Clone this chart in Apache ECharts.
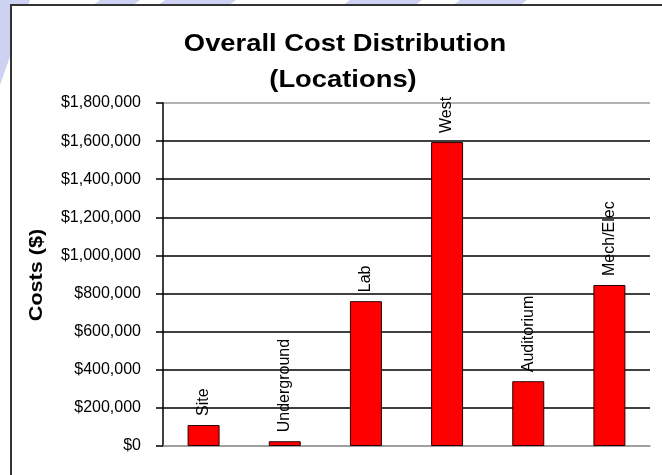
<!DOCTYPE html>
<html>
<head>
<meta charset="utf-8">
<script src="https://cdn.jsdelivr.net/npm/echarts@6/dist/echarts.min.js"></script>
<style>
  html, body { margin: 0; padding: 0; background: #fff; }
  #chart { width: 662px; height: 475px; }
</style>
</head>
<body>
<div id="chart"></div>
<script>
// Cost per project location
const locations = ['Site', 'Underground', 'Lab', 'West', 'Auditorium', 'Mech/Elec'];
const costs = [110000, 25000, 760000, 1595000, 340000, 845000];

// Value axis range
const axisMin = 0;
const axisMax = 1800000;
const axisStep = 200000;

const titleLines = ['Overall Cost Distribution', '(Locations)'];
const yAxisTitle = 'Costs ($)';

const FONT = '"Liberation Sans", Arial, sans-serif';

function money(v) {
  return '$' + v.toLocaleString('en-US');
}

// grid lines: the outer ones (0 and max) are the grey plot border, the rest black
const nLines = Math.round((axisMax - axisMin) / axisStep) + 1;
const lineColors = [];
for (let i = 0; i < nLines; i++) {
  lineColors.push(i === 0 || i === nLines - 1 ? '#9a9a9a' : '#000000');
}

// pale slide-background bands peeking out round the frame
const bands = [[0, 28], [100, 140], [165, 236], [350, 422], [460, 527]];
const bandShapes = bands.map(([a, b]) => ({
  type: 'polygon',
  z: -20,
  shape: { points: [[a, 0], [b, 0], [b - 40, 30], [a - 40, 30]] },
  style: { fill: '#cdd2f2' }
}));
bandShapes.push({
  type: 'polygon',
  z: -20,
  shape: { points: [[0, 0], [30, 0], [0, 85]] },
  style: { fill: '#cdd2f2' }
});

const chart = echarts.init(document.getElementById('chart'), null, { renderer: 'canvas' });

chart.setOption({
  animation: false,
  backgroundColor: '#ffffff',
  graphic: [
    ...bandShapes,
    {
      type: 'rect',
      z: -10,
      shape: { x: 11, y: 5, width: 700, height: 520 },
      style: { fill: '#ffffff', stroke: '#333333', lineWidth: 2 }
    },
    {
      type: 'text',
      x: 345, y: 44,
      scaleX: 1.14,
      style: {
        text: titleLines[0],
        font: 'bold 24px ' + FONT,
        fill: '#000',
        align: 'center',
        verticalAlign: 'middle'
      }
    },
    {
      type: 'text',
      x: 343, y: 80,
      scaleX: 1.14,
      style: {
        text: titleLines[1],
        font: 'bold 24px ' + FONT,
        fill: '#000',
        align: 'center',
        verticalAlign: 'middle'
      }
    },
    {
      type: 'text',
      x: 37, y: 275,
      rotation: Math.PI / 2,
      scaleX: 1.2,
      style: {
        text: yAxisTitle,
        font: 'bold 18px ' + FONT,
        fill: '#000',
        align: 'center',
        verticalAlign: 'middle'
      }
    }
  ],
  grid: {
    left: 163,
    right: 12,
    top: 103,
    bottom: 29,
    containLabel: false
  },
  xAxis: {
    type: 'category',
    data: locations,
    axisLine: { show: true, lineStyle: { color: '#9a9a9a', width: 1.5 } },
    axisTick: { show: false },
    axisLabel: { show: false },
    splitLine: { show: false }
  },
  yAxis: {
    type: 'value',
    min: axisMin,
    max: axisMax,
    interval: axisStep,
    axisLine: { show: true, lineStyle: { color: '#000', width: 1.5 } },
    axisTick: { show: true, inside: false, length: 7, lineStyle: { color: '#000', width: 1.5 } },
    axisLabel: {
      margin: 22,
      color: '#000',
      fontFamily: FONT,
      fontSize: 16,
      formatter: money
    },
    splitLine: {
      show: true,
      lineStyle: { color: lineColors, width: 1.5 }
    }
  },
  series: [
    {
      type: 'bar',
      data: costs,
      barWidth: 32,
      itemStyle: {
        color: '#ff0000',
        borderColor: '#2a0000',
        borderWidth: 1
      },
      label: {
        show: true,
        position: 'top',
        distance: 9,
        rotate: 90,
        align: 'left',
        verticalAlign: 'middle',
        formatter: '{b}',
        color: '#000',
        fontFamily: FONT,
        fontSize: 16
      }
    }
  ]
});
</script>
</body>
</html>
